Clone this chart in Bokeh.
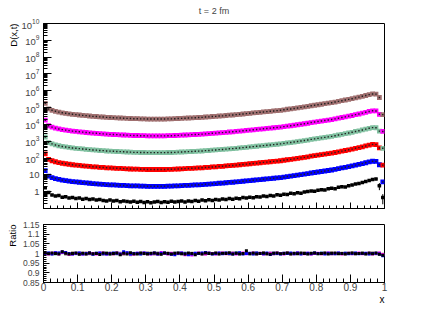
import math
from bokeh.plotting import figure
from bokeh.layouts import column
from bokeh.models import FixedTicker, LogTickFormatter, Range1d, ColumnDataSource, Title
from bokeh.embed import file_html
from bokeh.resources import INLINE

# ---------------- data ----------------
N_BINS = 100
BIN_W = 0.01
X = [round(BIN_W * (i + 0.5), 4) for i in range(N_BINS)]

# log10 of the common D(x,t) shape (series are drawn with display offsets x10^k)
SHAPE_LOG10 = [
    0.25, -0.08, -0.16, -0.22, -0.27, -0.31, -0.34, -0.37, -0.40, -0.42,
    -0.44, -0.46, -0.48, -0.50, -0.52, -0.53, -0.55, -0.56, -0.58, -0.59,
    -0.60, -0.61, -0.62, -0.63, -0.64, -0.65, -0.66, -0.66, -0.67, -0.67,
    -0.68, -0.68, -0.68, -0.68, -0.68, -0.68, -0.67, -0.67, -0.66, -0.65,
    -0.64, -0.63, -0.62, -0.61, -0.60, -0.59, -0.58, -0.56, -0.55, -0.53,
    -0.52, -0.50, -0.49, -0.47, -0.45, -0.44, -0.42, -0.40, -0.38, -0.36,
    -0.34, -0.32, -0.30, -0.28, -0.26, -0.24, -0.22, -0.20, -0.18, -0.16,
    -0.13, -0.10, -0.08, -0.05, -0.02, 0.01, 0.04, 0.07, 0.11, 0.14,
    0.17, 0.20, 0.23, 0.26, 0.29, 0.33, 0.37, 0.41, 0.45, 0.49,
    0.53, 0.58, 0.62, 0.67, 0.72, 0.77, 0.81, 0.80, 0.60, -0.42,
]

SERIES_NAMES = ["x10", "x100", "x1000", "x10^4", "x10^5"]
SERIES_SCALE = [1e1, 1e2, 1e3, 1e4, 1e5]
SERIES_COLORS = ["#0000ff", "#ff0000", "#80c0a0", "#ff00ff", "#a07070"]

# Monte Carlo (black) points, log10
MC_LOG10 = [
    0.24, -0.05, -0.20, -0.25, -0.22, -0.33, -0.30, -0.38, -0.34, -0.40,
    -0.37, -0.45, -0.40, -0.47, -0.43, -0.50, -0.46, -0.52, -0.55, -0.49,
    -0.56, -0.52, -0.60, -0.55, -0.58, -0.62, -0.57, -0.63, -0.59, -0.64,
    -0.60, -0.66, -0.61, -0.58, -0.65, -0.60, -0.63, -0.57, -0.62, -0.59,
    -0.55, -0.61, -0.56, -0.58, -0.52, -0.57, -0.50, -0.54, -0.48, -0.52,
    -0.46, -0.50, -0.44, -0.47, -0.41, -0.45, -0.39, -0.42, -0.35, -0.38,
    -0.33, -0.36, -0.30, -0.32, -0.26, -0.29, -0.23, -0.26, -0.18, -0.21,
    -0.15, -0.17, -0.10, -0.13, -0.06, -0.09, -0.02, 0.01, 0.04, 0.02,
    0.09, 0.12, 0.10, 0.17, 0.20, 0.18, 0.26, 0.30, 0.28, 0.36,
    0.40, 0.45, 0.48, 0.55, 0.60, 0.66, 0.73, 0.76, 0.35, -0.35,
]
MC_REL_ERR = [0.08] * 97 + [0.15, 0.45, 0.6]

# Ratio panel: deviations from 1 in per mille
RATIO_BLACK = [2, -1, 3, 0, -2, 9, 1, -3, 0, 2, -4, 1, -2, 3, -1, 0, -5, 2, 1, -3,
               0, 2, -6, 1, -2, 4, -1, -3, 2, 0, -2, 1, 3, -1, -4, 2, 0, -2, 1, 3,
               -1, -3, 2, 0, -7, 1, -2, 3, 0, -1, 2, -3, 1, 0, 4, -2, 1, -3, 0, 14,
               -1, 2, -2, 0, 3, -1, -4, 1, 2, -1, 0, 3, -2, 1, -1, 2, 0, -3, 1, 2,
               -1, 0, 2, -2, 1, 3, -1, 0, -2, 1, 2, -1, 0, 1, -2, 3, -1, 2, -4, -9]
RATIO_BLUE = [1, 3, -2, 4, 2, 8, 5, 0, -3, 1, 2, -2, 0, 3, -4, 1, 2, -1, -3, 0,
              2, 1, -3, 9, 4, -2, 0, 1, -3, 2, 0, -1, 2, -2, 1, 3, 0, -4, -6, 1,
              2, -1, -7, -3, 1, 0, 2, 5, 1, -2, 0, 3, -1, 2, 0, -3, 1, 4, -2, 0,
              1, -2, 3, 0, -1, 2, -5, 1, 0, -2, 1, 0, 2, -1, 3, -2, 0, 1, -1, 2,
              0, 1, -2, 1, 0, -1, 2, 0, 1, -1, 0, 2, -1, 0, 1, -2, 0, 1, -3, -12]
RATIO_GREEN = [-1, 2, 0, -3, 1, 4, -2, -5, 1, -1, 3, 0, -2, 1, -3, 2, 0, -1, 2, -4,
               1, -2, -3, -1, 2, -7, 1, 0, -2, 3, 1, -1, 0, 2, -2, 1, -3, 0, 2, -1,
               0, 2, -3, -5, 1, 0, -1, 2, 4, 0, -2, 1, 0, 3, -1, 2, 5, -1, 0, 1,
               -2, 0, 3, 1, -1, 0, 2, -2, 1, 0, -1, 2, 0, -1, 1, 0, 2, -1, 0, 1,
               -1, 2, 0, 1, -2, 0, 1, -1, 2, 0, -1, 1, 0, 2, -1, 0, 1, 0, -2, -6]
RATIO_MAGENTA = [0, -2, 1, 2, -3, 5, 3, -4, -2, 0, 1, -3, -1, 2, 0, -2, 1, 3, -2, 0,
                 -1, 2, -4, 0, 1, -2, -3, 1, 0, 2, -1, -3, 1, -2, 5, 0, -2, 1, -3, 0,
                 2, -6, -1, -8, 0, 2, -1, -3, 1, 0, -2, 1, 2, -1, 0, 1, -2, 0, 3, -1,
                 0, 2, -1, 1, -3, 0, 1, -1, 2, 0, -2, 1, 0, -1, 2, 0, -1, 1, -3, 0,
                 1, -1, 0, 2, -1, 0, 1, -2, 0, 1, -1, 0, 2, -1, 0, 1, -2, 0, 3, -5]
RATIO_BROWN = [1, 0, -3, 2, 1, 6, -1, -4, 2, 0, -2, 1, 3, -1, -2, 0, 1, -3, 0, 2,
               -2, 0, 1, -3, 2, -1, -4, 0, 1, -1, 2, 0, -2, 1, -1, 0, 2, -3, 0, 1,
               -1, 0, -4, 1, -2, 0, 1, -1, 2, 0, 1, -1, 0, 2, -2, 1, 0, 2, -1, 3,
               0, -1, 1, 0, 2, -2, 0, 1, -1, 0, 1, 2, -1, 0, 1, -1, 2, 0, -1, 1,
               0, -1, 1, 0, 2, -1, 0, 1, -1, 0, 2, -1, 0, 1, 0, -1, 2, -1, 1, -4]

X_TICKS = [0, 0.1, 0.2, 0.3, 0.4, 0.5, 0.6, 0.7, 0.8, 0.9, 1]
X_TICK_LABELS = ["0", "0.1", "0.2", "0.3", "0.4", "0.5", "0.6", "0.7", "0.8", "0.9", "1"]
R_TICKS = [0.85, 0.9, 0.95, 1.0, 1.05, 1.1, 1.15]
R_TICK_LABELS = ["0.85", "0.9", "0.95", "1", "1.05", "1.1", "1.15"]

FONT = "Liberation Sans"


def side_title(text, align, size, standoff, valign="bottom"):
    return Title(text=text, align=align, text_font=FONT, text_font_size=size,
                 text_font_style="normal", text_color="black", standoff=standoff,
                 vertical_align=valign)


# ---------------- top panel ----------------
p1 = figure(frame_width=341, frame_height=185,
            x_range=Range1d(0, 1), y_range=Range1d(0.1, 1e10),
            y_axis_type="log", output_backend="svg", toolbar_location=None,
            min_border_left=43, min_border_right=43, min_border_top=22,
            min_border_bottom=8)
p1.grid.visible = False
p1.outline_line_color = "black"
p1.outline_line_width = 1
p1.background_fill_color = "white"
p1.border_fill_color = "white"

p1.title.text = "t = 2 fm"
p1.title.align = "center"
p1.title.vertical_align = "top"
p1.title.text_font = FONT
p1.title.text_font_size = "9px"
p1.title.text_font_style = "normal"
p1.title.standoff = 11

y_major = [10.0 ** k for k in range(0, 11)]
y_minor = [m * 10.0 ** k for k in range(-1, 10) for m in range(2, 10)]
p1.yaxis.ticker = FixedTicker(ticks=y_major, minor_ticks=y_minor)
p1.yaxis.formatter = LogTickFormatter(min_exponent=1)
p1.yaxis.major_label_overrides = {10.0: "10"}
p1.yaxis.major_tick_in = 8
p1.yaxis.major_tick_out = 0
p1.yaxis.minor_tick_in = 4
p1.yaxis.minor_tick_out = 0
p1.yaxis.major_label_text_font = FONT
p1.yaxis.major_label_text_font_size = "9.5px"
p1.yaxis.major_label_standoff = 4
p1.yaxis.axis_line_color = "black"

x_minor = [round(0.02 * i, 2) for i in range(51)]
p1.xaxis.ticker = FixedTicker(ticks=X_TICKS, minor_ticks=x_minor)
p1.xaxis.major_tick_in = 6
p1.xaxis.major_tick_out = 0
p1.xaxis.minor_tick_in = 3
p1.xaxis.minor_tick_out = 0
p1.xaxis.major_label_overrides = {t: "" for t in X_TICKS}
p1.xaxis.major_label_standoff = 0

p1.add_layout(side_title("D(x,t)", "right", "9.5px", 0), "left")

# black MC with error bars
mc_y = [10 ** v for v in MC_LOG10]
mc_lo = [y * (1 - e) for y, e in zip(mc_y, MC_REL_ERR)]
mc_hi = [y * (1 + e) for y, e in zip(mc_y, MC_REL_ERR)]
mc_src = ColumnDataSource(dict(x=X, y=mc_y, lo=mc_lo, hi=mc_hi,
                               x0=[x - BIN_W / 2 for x in X],
                               x1=[x + BIN_W / 2 for x in X]))
p1.segment(x0="x0", y0="y", x1="x1", y1="y", source=mc_src, line_color="black", line_width=1)
p1.segment(x0="x", y0="lo", x1="x", y1="hi", source=mc_src, line_color="black", line_width=1)
p1.scatter(x="x", y="y", source=mc_src, marker="square", size=3.5,
           fill_color="black", line_color="black", line_width=0)

for scale, col in zip(SERIES_SCALE, SERIES_COLORS):
    ys = [scale * 10 ** v for v in SHAPE_LOG10]
    src = ColumnDataSource(dict(x=X, y=ys))
    p1.scatter(x="x", y="y", source=src, marker="square", size=4.8,
               fill_color=col, line_color=col, line_width=0)
    p1.scatter(x="x", y="y", source=src, marker="square", size=1.4,
               fill_color="#202020", line_color=None)

# ---------------- ratio panel ----------------
p2 = figure(frame_width=341, frame_height=58,
            x_range=p1.x_range, y_range=Range1d(0.85, 1.15),
            output_backend="svg", toolbar_location=None,
            min_border_left=43, min_border_right=43, min_border_top=8,
            min_border_bottom=30)
p2.grid.visible = False
p2.outline_line_color = "black"
p2.background_fill_color = "white"
p2.border_fill_color = "white"
p2.xaxis.ticker = FixedTicker(ticks=X_TICKS, minor_ticks=x_minor)
p2.xaxis.major_label_overrides = {t: l for t, l in zip(X_TICKS, X_TICK_LABELS)}
p2.xaxis.major_tick_in = 8
p2.xaxis.major_tick_out = 0
p2.xaxis.minor_tick_in = 4
p2.xaxis.minor_tick_out = 0
p2.xaxis.major_label_text_font = FONT
p2.xaxis.major_label_text_font_size = "10px"
p2.xaxis.major_label_standoff = 0

r_minor = [round(0.85 + 0.01 * i, 2) for i in range(31)]
p2.yaxis.ticker = FixedTicker(ticks=R_TICKS, minor_ticks=r_minor)
p2.yaxis.major_label_overrides = {t: l for t, l in zip(R_TICKS, R_TICK_LABELS)}
p2.yaxis.major_tick_in = 6
p2.yaxis.major_tick_out = 0
p2.yaxis.minor_tick_in = 3
p2.yaxis.minor_tick_out = 0
p2.yaxis.major_label_text_font = FONT
p2.yaxis.major_label_text_font_size = "8.5px"
p2.yaxis.major_label_standoff = 4

p2.add_layout(side_title("Ratio", "right", "9.5px", 4), "left")
p2.add_layout(side_title("x", "right", "10px", 0, "top"), "below")

ratio_sets = [(RATIO_GREEN, "#80c0a0"), (RATIO_BROWN, "#a07070"),
              (RATIO_MAGENTA, "#ff00ff"), (RATIO_BLUE, "#0000ff"),
              (RATIO_BLACK, "black")]
for devs, col in ratio_sets:
    rs = [1 + d / 1000.0 for d in devs]
    p2.scatter(x=X, y=rs, marker="square", size=3, fill_color=col,
               line_color=col, line_width=0)

layout = column(p1, p2, spacing=0)
open("out.html", "w").write(file_html(layout, INLINE))
